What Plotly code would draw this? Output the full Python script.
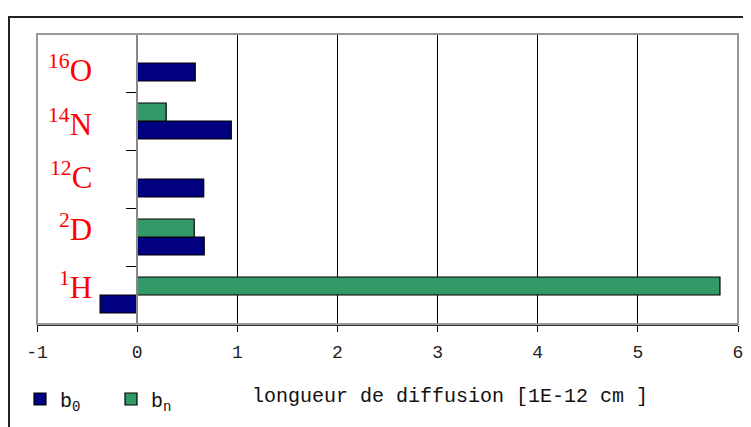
import plotly.graph_objects as go

# --- data ---
nuclei = ["1H", "2D", "12C", "14N", "16O"]          # bottom -> top
mass_numbers = ["1", "2", "12", "14", "16"]
symbols = ["H", "D", "C", "N", "O"]
b0 = [-0.37, 0.67, 0.665, 0.94, 0.58]
bn = [5.82, 0.57, None, 0.29, None]
x_ticks = [-1, 0, 1, 2, 3, 4, 5, 6]
axis_title = "longueur de diffusion [1E-12 cm ]"

OFF = 8  # page body margin
W, H = 751 - OFF, 427 - OFF
L, R, T, B = 37 - OFF, 13, 34 - OFF, 427 - 324
pw, ph = W - L - R, H - T - B

def px_x(sx):  # screenshot x -> paper x
    return (sx - 37) / pw

def px_y(sy):  # screenshot y -> paper y
    return (324 - sy) / ph

fig = go.Figure()
fig.add_trace(go.Bar(y=nuclei, x=b0, orientation="h", name="b<sub>0</sub>",
                     marker=dict(color="#000080", line=dict(color="black", width=1.2))))
fig.add_trace(go.Bar(y=nuclei, x=bn, orientation="h", name="b<sub>n</sub>",
                     marker=dict(color="#339966", line=dict(color="black", width=1.2))))

mono = "Liberation Mono"
serif = "Liberation Serif"

label_shift = [10, 10, 4, -1, -5]
for cat, m, s, dy in zip(nuclei, mass_numbers, symbols, label_shift):
    fig.add_annotation(x=-0.43, y=cat, xref="x", yref="y", xanchor="right", yanchor="middle",
                       text=f"<sup>{m}</sup>{s}", showarrow=False, yshift=dy,
                       font=dict(family=serif, size=31, color="red"))

fig.add_annotation(x=px_x(450), y=px_y(396), xref="paper", yref="paper",
                   text=axis_title, showarrow=False, xanchor="center", yanchor="middle",
                   font=dict(family=mono, size=20, color="#111"))

# plot-area frame
fig.add_shape(type="rect", xref="paper", yref="paper", x0=0, x1=1, y0=0, y1=1,
              line=dict(color="#999999", width=2), layer="above")
# outer chart border
fig.add_shape(type="rect", xref="paper", yref="paper",
              x0=px_x(9), x1=1.2, y0=-1.0, y1=px_y(17),
              line=dict(color="#222222", width=2), layer="above")

fig.update_layout(
    width=W, height=H,
    margin=dict(l=L, r=R, t=T, b=B, autoexpand=False),
    paper_bgcolor="white", plot_bgcolor="white",
    barmode="group", bargap=0.38, bargroupgap=0,
    showlegend=True,
    legend=dict(orientation="h", x=px_x(20), xanchor="left", y=px_y(399), yanchor="middle",
                font=dict(family=mono, size=20, color="#111"), traceorder="normal",
                bgcolor="rgba(0,0,0,0)", entrywidth=46, entrywidthmode="pixels"),
    xaxis=dict(range=[-1, 6], tickvals=x_ticks, ticktext=[str(v) for v in x_ticks],
               ticks="outside", ticklen=6, tickcolor="black", automargin=False,
               ticklabelstandoff=5,
               showline=True, linecolor="#333", linewidth=1.5,
               showgrid=True, gridcolor="black", gridwidth=1, zeroline=False,
               tickfont=dict(family=mono, size=18, color="#222")),
    yaxis=dict(type="category", categoryorder="array", categoryarray=nuclei,
               range=[-0.5, 4.5], anchor="free", position=1 / 7, automargin=False,
               showline=True, linecolor="#888888", linewidth=2,
               ticks="outside", tickson="boundaries", ticklen=10, tickcolor="black",
               showticklabels=False, showgrid=False, zeroline=False),
)

fig.write_html("out.html")
